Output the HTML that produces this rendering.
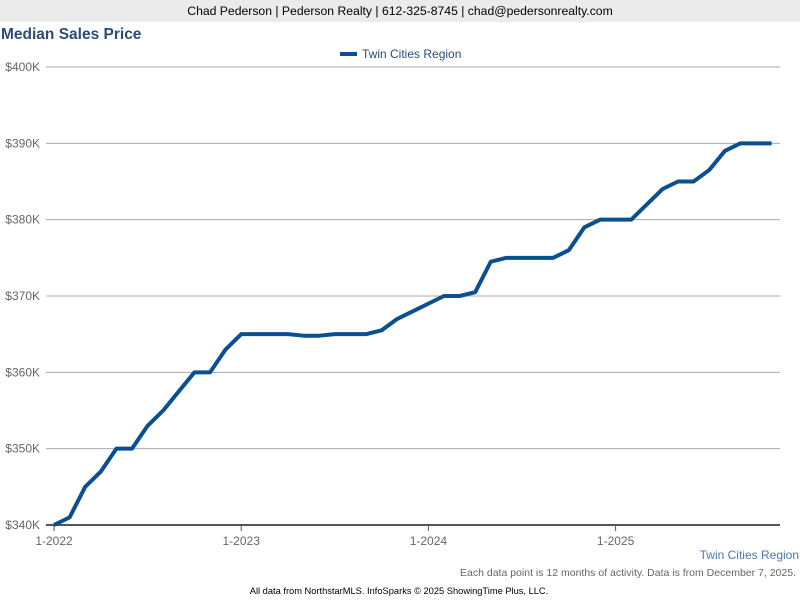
<!DOCTYPE html>
<html><head><meta charset="utf-8"><style>
body{margin:0;width:800px;height:600px;background:#fff;font-family:"Liberation Sans",Arial,sans-serif;overflow:hidden;position:relative}
.hdr{position:absolute;left:0;top:0;width:800px;height:22px;background:#ebebeb;font-size:12.2px;color:#000;text-align:center;line-height:22px}
.title{position:absolute;left:1px;top:26px;font-size:15.5px;font-weight:bold;color:#2a4d78}
svg{position:absolute;left:0;top:0}
</style></head><body>
<div class="hdr">Chad Pederson | Pederson Realty | 612-325-8745 | chad@pedersonrealty.com</div>
<div class="title">Median Sales Price</div>
<svg id="c" width="800" height="600"></svg>
<script>
const yTicks=[340,350,360,370,380,390,400];
const yLabels=["$340K","$350K","$360K","$370K","$380K","$390K","$400K"];
const xLabels=["1-2022","1-2023","1-2024","1-2025"];
const xLabelMonths=[0,12,24,36];
const values=[340,341,345,347,350,350,353,355,357.5,360,360,363,365,365,365,365,364.8,364.8,365,365,365,365.5,367,368,369,370,370,370.5,374.5,375,375,375,375,376,379,380,380,380,382,384,385,385,386.5,389,390,390,390];
const NS="http://www.w3.org/2000/svg";
const svg=document.getElementById('c');
const x=m=>54+m*(187.2/12);
const y=v=>525-(v-340)*(458/60);
function mk(t,a){const e=document.createElementNS(NS,t);for(const k in a)e.setAttribute(k,a[k]);svg.appendChild(e);return e;}
yTicks.forEach((v,i)=>{
 const g=mk('line',{x1:46,x2:780,y1:y(v),y2:y(v),stroke:i==0?'#555':'#aaa','stroke-width':i==0?2:1});
 
 
 const t=mk('text',{x:40,y:y(v)+4,'text-anchor':'end','font-size':12,fill:'#666','font-family':'Liberation Sans, sans-serif'});
 t.textContent=yLabels[i];
 
 
});
xLabels.forEach((l,i)=>{
 const tk=mk('line',{x1:x(xLabelMonths[i]),x2:x(xLabelMonths[i]),y1:525,y2:531,stroke:'#555'});
 
 
 const t=mk('text',{x:x(xLabelMonths[i]),y:545,'text-anchor':'middle','font-size':12,fill:'#666','font-family':'Liberation Sans, sans-serif'});
 t.textContent=l;
 
 
});
const p=mk('polyline',{points:values.map((v,i)=>x(i)+','+y(v)).join(' '),fill:'none',stroke:'#0a4f8f','stroke-width':4,'stroke-linejoin':'round'});


const lg=mk('line',{x1:340,x2:357,y1:54,y2:54,stroke:'#0a4f8f','stroke-width':4});


function txt(s,a,name){const t=mk('text',Object.assign({'font-family':'Liberation Sans, sans-serif'},a));t.textContent=s;}
txt('Twin Cities Region',{x:362,y:58,'font-size':12,fill:'#2a4d78'},'legend-label');
txt('Twin Cities Region',{x:799,y:559,'font-size':12,fill:'#4a7ab0','text-anchor':'end'},'series-footer-label');
txt('Each data point is 12 months of activity. Data is from December 7, 2025.',{x:796,y:576,'font-size':10.5,fill:'#666','text-anchor':'end'},'data-note');
txt('All data from NorthstarMLS. InfoSparks © 2025 ShowingTime Plus, LLC.',{x:399,y:594,'font-size':9.3,fill:'#000','text-anchor':'middle'},'footer-credit');
</script>
</body></html>
